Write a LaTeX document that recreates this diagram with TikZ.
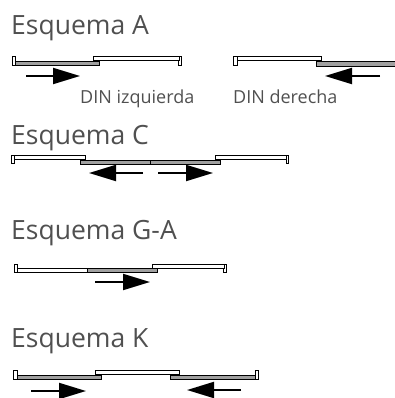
\documentclass[tikz,border=0pt]{standalone}
\usepackage{fontspec}
\setmainfont{Open Sans}
\usetikzlibrary{arrows.meta}
\definecolor{txt}{HTML}{505050}
\definecolor{pane}{HTML}{A0A0A0}
\tikzset{
  title/.style={anchor=base west,inner sep=0pt,text=txt,font=\fontsize{26.5}{30}\selectfont},
  din/.style={anchor=base west,inner sep=0pt,text=txt,font=\fontsize{18}{21}\selectfont},
  jamb/.style={draw=black,line width=0.8pt,fill=white},
  whitepane/.style={draw=black,line width=0.8pt,fill=white},
  graypane/.style={draw=black,line width=0.8pt,fill=pane},
  move/.style={draw=black,line width=2pt,-{Triangle[length=27pt,width=16pt]}}
}
\begin{document}
\begin{tikzpicture}[x=1pt,y=-1pt]
\useasboundingbox (0,0) rectangle (394,398);
% Esquema A
\node[title] (ta) at (11,34.5) {Esquema A};
\draw[jamb] (12,56) rectangle (15,65.5);
\draw[jamb] (178.5,56) rectangle (181.5,65.5);
\draw[whitepane] (93.5,56) rectangle (179,60);
\draw[graypane] (15.5,61) rectangle (99,65.5);
\coordinate (a1) at (26,76); \coordinate (a2) at (80,76);
\draw[move] (a1) -- (a2);
\node[din] (dl) at (80,104) {DIN izquierda};
% derecha
\draw[jamb] (233.5,56) rectangle (237,65);
\draw[whitepane] (237,56) rectangle (321.5,60);
\draw[graypane] (316,61.5) rectangle (396,66);
\coordinate (b1) at (380,76); \coordinate (b2) at (325,76);
\draw[move] (b1) -- (b2);
\node[din] (dr) at (233,104) {DIN derecha};
% Esquema C
\node[title] (tc) at (11,144.5) {Esquema C};
\draw[jamb] (11.5,155.5) rectangle (14,163.5);
\draw[jamb] (286,155.5) rectangle (288.5,163.5);
\draw[whitepane] (14,155.5) rectangle (85,159.5);
\draw[whitepane] (215.5,155.5) rectangle (286,159.5);
\draw[graypane] (80.5,160) rectangle (150,164);
\draw[graypane] (150,160) rectangle (220,164);
\coordinate (c1) at (143,173); \coordinate (c2) at (89,173);
\coordinate (c3) at (158,173); \coordinate (c4) at (213,173);
\draw[move] (c1) -- (c2);
\draw[move] (c3) -- (c4);
% Esquema G-A
\node[title] (tg) at (11,239.5) {Esquema G-A};
\draw[jamb] (14,264) rectangle (17,272);
\draw[jamb] (223,264) rectangle (226,272);
\draw[whitepane] (17,268.5) rectangle (87,272);
\draw[graypane] (87,268.5) rectangle (157,272.5);
\draw[whitepane] (152.5,264) rectangle (224,268);
\coordinate (g1) at (95,282); \coordinate (g2) at (150,282);
\draw[move] (g1) -- (g2);
% Esquema K
\node[title] (tk) at (11,347.5) {Esquema K};
\draw[jamb] (13.5,370) rectangle (17,379.5);
\draw[jamb] (255,370) rectangle (258,379.5);
\draw[whitepane] (95.5,370) rectangle (179.5,374);
\draw[graypane] (17,375.5) rectangle (101,379.5);
\draw[graypane] (170.5,375.5) rectangle (255,379.5);
\coordinate (k1) at (31,391); \coordinate (k2) at (86,391);
\coordinate (k3) at (241,390); \coordinate (k4) at (187,390);
\draw[move] (k1) -- (k2);
\draw[move] (k3) -- (k4);
\end{tikzpicture}
\end{document}
